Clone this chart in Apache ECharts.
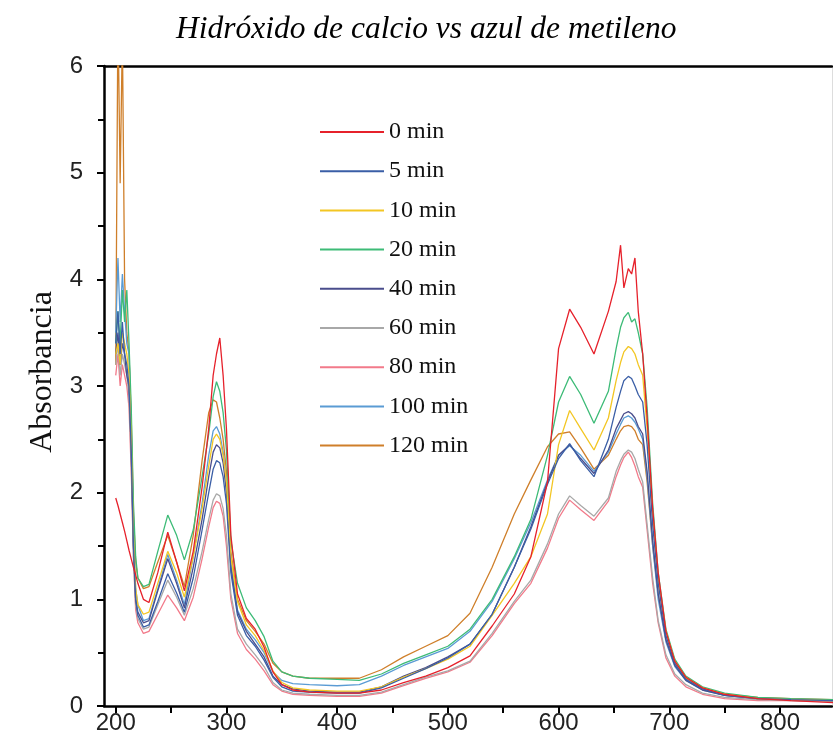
<!DOCTYPE html>
<html>
<head>
<meta charset="utf-8">
<script src="https://cdn.jsdelivr.net/npm/echarts@6/dist/echarts.min.js"></script>
<style>html,body{margin:0;padding:0;background:#fff}#c{width:833px;height:750px}</style>
</head>
<body>
<div id="c"></div>
<script>
const titleText = 'Hidróxido de calcio vs azul de metileno';
const yTitle = 'Absorbancia';
const seriesNames = ['0 min','5 min','10 min','20 min','40 min','60 min','80 min','100 min','120 min'];
const xTickLabels = [200,300,400,500,600,700,800];
const xTickMarks = [200,250,300,350,400,450,500,550,600,650,700,750,800];

const wavelengths = [200,202,204,206,208,210,212,214,216,218,220,225,230,238,247,255,262,270,278,284,288,291,294,297,300,304,310,318,326,334,342,350,360,375,400,420,440,460,480,500,520,540,560,575,590,600,610,620,632,645,652,656,659,663,666,669,672,676,680,685,690,697,705,715,730,750,780,810,850];

const abs0 = [1.95,1.88,1.80,1.72,1.64,1.55,1.46,1.38,1.30,1.23,1.15,1.0,0.97,1.25,1.63,1.35,1.08,1.45,2.05,2.6,3.1,3.3,3.45,3.1,2.6,1.6,1.05,0.82,0.72,0.55,0.32,0.2,0.15,0.13,0.12,0.12,0.15,0.22,0.28,0.36,0.47,0.75,1.05,1.4,2.1,3.35,3.72,3.55,3.3,3.7,3.98,4.32,3.92,4.1,4.05,4.2,3.7,3.3,2.7,1.85,1.25,0.7,0.42,0.27,0.17,0.11,0.07,0.05,0.03];
const abs5 = [3.4,3.7,3.3,3.6,3.3,3.2,3.0,2.4,1.5,1.0,0.85,0.74,0.76,0.98,1.24,1.06,0.88,1.2,1.65,2.0,2.22,2.3,2.28,2.15,1.9,1.25,0.85,0.66,0.56,0.43,0.27,0.18,0.14,0.13,0.12,0.12,0.17,0.26,0.35,0.45,0.58,0.86,1.3,1.66,2.08,2.32,2.46,2.3,2.15,2.5,2.8,2.95,3.05,3.09,3.07,3.0,2.92,2.85,2.45,1.7,1.15,0.66,0.4,0.25,0.16,0.1,0.07,0.06,0.05];
const abs10 = [3.3,3.4,3.2,3.5,3.4,3.3,3.1,2.5,1.6,1.1,0.95,0.86,0.88,1.15,1.45,1.25,1.02,1.4,1.85,2.25,2.5,2.55,2.5,2.35,2.1,1.4,0.98,0.76,0.66,0.52,0.33,0.22,0.17,0.15,0.14,0.14,0.18,0.27,0.35,0.44,0.56,0.85,1.15,1.4,1.8,2.45,2.77,2.6,2.4,2.7,3.05,3.22,3.32,3.37,3.35,3.3,3.2,3.1,2.6,1.8,1.2,0.7,0.42,0.27,0.17,0.11,0.07,0.06,0.05];
const abs20 = [3.4,3.7,3.4,3.9,3.6,3.9,3.4,2.8,1.9,1.4,1.2,1.12,1.14,1.45,1.79,1.6,1.37,1.65,2.15,2.55,2.9,3.04,2.95,2.75,2.4,1.55,1.15,0.92,0.8,0.65,0.42,0.32,0.28,0.26,0.25,0.24,0.3,0.4,0.48,0.56,0.72,1.0,1.4,1.75,2.35,2.85,3.09,2.92,2.65,2.95,3.35,3.55,3.64,3.69,3.6,3.63,3.5,3.3,2.8,1.9,1.25,0.72,0.44,0.28,0.18,0.12,0.08,0.07,0.06];
const abs40 = [3.3,3.5,3.2,3.4,3.3,3.1,3.0,2.4,1.5,1.0,0.88,0.78,0.8,1.08,1.38,1.15,0.92,1.3,1.75,2.15,2.38,2.45,2.42,2.28,2.0,1.3,0.88,0.7,0.58,0.46,0.28,0.2,0.16,0.14,0.13,0.13,0.18,0.28,0.36,0.46,0.58,0.86,1.3,1.68,2.1,2.35,2.45,2.32,2.18,2.4,2.6,2.68,2.74,2.76,2.74,2.7,2.62,2.55,2.2,1.55,1.05,0.62,0.38,0.24,0.15,0.1,0.07,0.06,0.05];
const abs60 = [3.2,3.4,3.1,3.3,3.2,3.1,2.9,2.3,1.4,0.95,0.82,0.72,0.74,0.95,1.18,1.02,0.85,1.1,1.45,1.75,1.93,1.99,1.97,1.85,1.6,1.05,0.72,0.58,0.48,0.37,0.22,0.15,0.12,0.11,0.1,0.1,0.13,0.2,0.27,0.33,0.42,0.68,0.98,1.18,1.52,1.8,1.97,1.88,1.78,1.95,2.2,2.3,2.36,2.4,2.38,2.32,2.22,2.1,1.7,1.2,0.8,0.48,0.3,0.2,0.12,0.08,0.06,0.05,0.04];
const abs80 = [3.1,3.3,3.0,3.2,3.1,3.0,2.8,2.2,1.4,0.9,0.78,0.68,0.7,0.86,1.04,0.92,0.8,1.02,1.38,1.68,1.86,1.92,1.9,1.78,1.5,1.0,0.68,0.53,0.44,0.33,0.2,0.14,0.11,0.1,0.09,0.09,0.12,0.19,0.26,0.32,0.41,0.66,0.96,1.15,1.48,1.76,1.93,1.84,1.74,1.92,2.15,2.26,2.33,2.38,2.33,2.25,2.15,2.05,1.65,1.15,0.78,0.45,0.28,0.18,0.11,0.07,0.05,0.05,0.04];
const abs100 = [3.5,4.2,3.6,4.05,3.7,3.4,3.3,2.6,1.7,1.1,0.95,0.8,0.82,1.1,1.42,1.18,0.95,1.4,1.9,2.35,2.58,2.62,2.55,2.38,2.1,1.35,0.9,0.72,0.62,0.5,0.32,0.24,0.21,0.2,0.19,0.2,0.28,0.38,0.46,0.54,0.7,0.98,1.38,1.72,2.12,2.35,2.44,2.35,2.2,2.38,2.55,2.64,2.7,2.72,2.7,2.66,2.6,2.5,2.15,1.5,1.0,0.6,0.37,0.24,0.15,0.1,0.07,0.06,0.05];
const abs120 = [3.2,6.5,4.9,6.3,4.0,3.5,3.3,2.7,1.8,1.35,1.2,1.1,1.12,1.35,1.6,1.35,1.12,1.6,2.3,2.75,2.87,2.85,2.7,2.5,2.2,1.45,1.0,0.8,0.7,0.58,0.4,0.32,0.28,0.26,0.26,0.26,0.34,0.46,0.56,0.66,0.87,1.3,1.8,2.12,2.43,2.55,2.57,2.42,2.22,2.35,2.5,2.58,2.62,2.63,2.62,2.58,2.5,2.45,2.1,1.5,1.05,0.62,0.4,0.26,0.17,0.11,0.08,0.07,0.06];

const seriesValues = [abs0, abs5, abs10, abs20, abs40, abs60, abs80, abs100, abs120];
const colors = ['#e6212b','#3a5ea6','#f3c623','#3dbb77','#4a4d8c','#a8a8a8','#f27a8a','#5a9bd4','#cf7f2a'];

const chart = echarts.init(document.getElementById('c'), null, {renderer: 'canvas'});
const series = seriesNames.map((n, i) => ({
  name: n,
  type: 'line',
  xAxisIndex: 0,
  yAxisIndex: 0,
  showSymbol: false,
  symbol: 'none',
  clip: true,
  lineStyle: {width: 1.3, color: colors[i]},
  itemStyle: {color: colors[i]},
  data: wavelengths.map((w, k) => [w, seriesValues[i][k]]),
  z: 2 + (9 - i)
}));

chart.setOption({
  animation: false,
  backgroundColor: '#fff',
  title: {
    text: titleText,
    left: 171,
    top: 9,
    textStyle: {fontFamily: 'Liberation Serif', fontStyle: 'italic', fontWeight: 'normal', fontSize: 31.5, color: '#000'}
  },
  grid: {left: 104, right: 1, top: 66, bottom: 44, containLabel: false},
  legend: {
    orient: 'vertical',
    left: 315,
    top: 115,
    icon: 'rect',
    itemWidth: 64,
    itemHeight: 2,
    itemGap: 15.2,
    data: seriesNames,
    textStyle: {fontFamily: 'Liberation Serif', fontSize: 24, lineHeight: 24, color: '#111'}
  },
  xAxis: [{
    type: 'value',
    min: 189.4,
    max: 847,
    position: 'bottom',
    splitLine: {show: false},
    axisLine: {onZero: false, lineStyle: {color: '#000', width: 2.5}},
    axisTick: {show: true, inside: false, length: 7, customValues: xTickMarks, lineStyle: {color: '#000', width: 2}},
    axisLabel: {customValues: xTickLabels, fontFamily: 'Liberation Sans', fontSize: 24, color: '#222', margin: 5}
  }, {
    type: 'value',
    min: 189.4,
    max: 847,
    position: 'top',
    splitLine: {show: false},
    axisLine: {onZero: false, lineStyle: {color: '#000', width: 2.5}},
    axisTick: {show: false},
    axisLabel: {show: false}
  }],
  yAxis: [{
    type: 'value',
    min: 0,
    max: 6,
    interval: 1,
    position: 'left',
    name: yTitle,
    nameLocation: 'middle',
    nameRotate: 90,
    nameGap: 43,
    nameTextStyle: {fontFamily: 'Liberation Serif', fontSize: 32, color: '#111', padding: [0, 0, 0, 28]},
    splitLine: {show: false},
    axisLine: {show: true, onZero: false, lineStyle: {color: '#000', width: 2.5}},
    axisTick: {show: true, inside: false, length: 7, lineStyle: {color: '#000', width: 2}},
    minorTick: {show: true, splitNumber: 2, length: 6, lineStyle: {color: '#000', width: 2}},
    axisLabel: {fontFamily: 'Liberation Sans', fontSize: 24, color: '#222', margin: 21}
  }, {
    type: 'value',
    min: 0,
    max: 6,
    position: 'right',
    splitLine: {show: false},
    axisLine: {show: true, onZero: false, lineStyle: {color: '#dddddd', width: 1}},
    axisTick: {show: false},
    axisLabel: {show: false}
  }],
  series: series
});
</script>
</body>
</html>
